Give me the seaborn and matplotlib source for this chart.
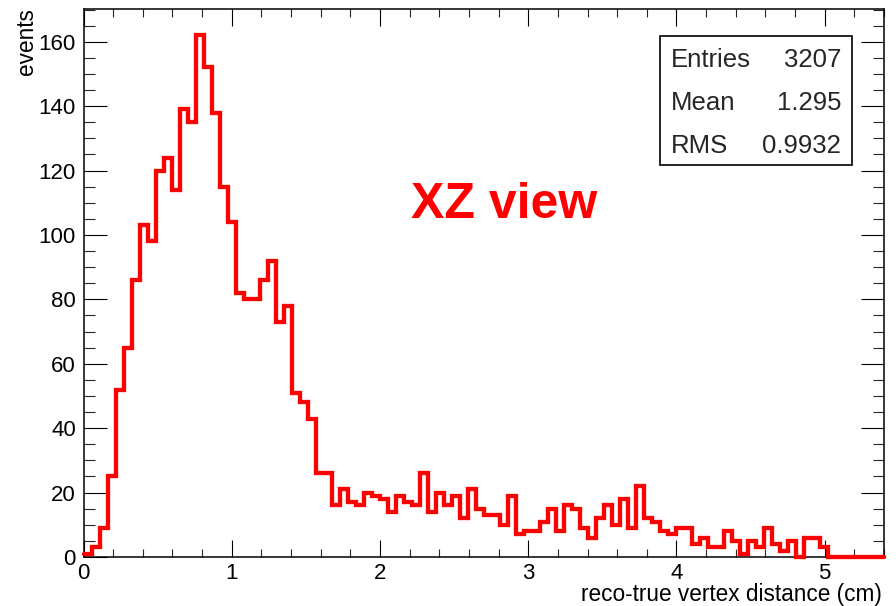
import numpy as np
import pandas as pd
import matplotlib
matplotlib.use("Agg")
import matplotlib.pyplot as plt
from matplotlib.ticker import MultipleLocator
from matplotlib.patches import Rectangle
import seaborn as sns

# Histogram binning: 100 bins between 0 and 5.4 cm
x_low = 0.0
x_high = 5.4
n_bins = 100

# Event counts per bin
counts = [
    1, 3, 9, 25, 52, 65, 86, 103, 98, 120,
    124, 114, 139, 135, 162, 152, 138, 115, 104, 82,
    80, 80, 86, 92, 73, 78, 51, 48, 43, 26,
    26, 16, 21, 17, 16, 20, 19, 18, 14, 19,
    17, 16, 26, 14, 20, 16, 19, 12, 21, 15,
    13, 13, 10, 19, 7, 8, 8, 11, 15, 8,
    16, 15, 9, 6, 12, 16, 10, 18, 9, 22,
    12, 11, 8, 7, 9, 9, 4, 6, 3, 3,
    8, 5, 1, 5, 3, 9, 4, 2, 5, 0,
    6, 6, 3, 0, 0, 0, 0, 0, 0, 0,
]

stat_names = ["Entries", "Mean", "RMS"]
stat_values = ["3207", "1.295", "0.9932"]

x_label = "reco-true vertex distance (cm)"
y_label = "events"
view_label = "XZ view"

sns.set_theme(style="white")
plt.rcParams["font.family"] = ["Liberation Sans", "DejaVu Sans"]

W, H = 896, 606
fig = plt.figure(figsize=(W / 100, H / 100), dpi=100)
fig.patch.set_facecolor("white")


def fx(px):
    return px / W


def fy(py):
    return 1 - py / H


left, right, top, bottom = 83.5, 884.0, 9.2, 557.0
ax = fig.add_axes([fx(left), fy(bottom), (right - left) / W, (bottom - top) / H])
ax.set_facecolor("white")

width = (x_high - x_low) / n_bins
centers = x_low + width * (np.arange(n_bins) + 0.5)
df = pd.DataFrame({"distance": centers, "events": counts})

sns.histplot(data=df, x="distance", weights="events", bins=n_bins,
             binrange=(x_low, x_high), element="step", fill=False,
             color="#ff0000", linewidth=3.1, ax=ax)
for ln in ax.lines:
    ln.set_clip_on(False)
    ln.set_zorder(4)
    ln.set_solid_joinstyle("miter")

# y range extends 5% above the tallest bin
ax.set_xlim(x_low, x_high)
ax.set_ylim(0, max(counts) * 1.05)
ax.set_xlabel("")
ax.set_ylabel("")

for s in ax.spines.values():
    s.set_visible(True)
    s.set_color("black")
    s.set_linewidth(1.1)

ax.xaxis.set_major_locator(MultipleLocator(1))
ax.xaxis.set_minor_locator(MultipleLocator(0.2))
ax.yaxis.set_major_locator(MultipleLocator(20))
ax.yaxis.set_minor_locator(MultipleLocator(5))

ax.tick_params(axis="x", which="major", direction="in", length=12.2, width=0.8,
               bottom=True, top=True, labelsize=16, pad=4, colors="black")
ax.tick_params(axis="x", which="minor", direction="in", length=6, width=0.8,
               bottom=True, top=True)
ax.tick_params(axis="y", which="major", direction="in", length=16.5, width=0.8,
               left=True, right=True, labelsize=16, pad=5.5, colors="black")
ax.tick_params(axis="y", which="minor", direction="in", length=8, width=0.8,
               left=True, right=True)

# Axis titles at the far ends of the axes
fig.text(fx(882), fy(601), x_label, ha="right", va="baseline", fontsize=16.3, color="black")
fig.text(fx(27), fy(8), y_label, ha="center", va="top", rotation=90, fontsize=16.3, color="black")

# Panel label
fig.text(fx(504), fy(218), view_label, ha="center", va="baseline", fontsize=36,
         fontweight="bold", color="#ff0000")

# Statistics box
bx0, by0, bx1, by1 = 660, 36.5, 852, 165.5
fig.patches.append(Rectangle((fx(bx0), fy(by1)), (bx1 - bx0) / W, (by1 - by0) / H,
                             transform=fig.transFigure, fill=True, facecolor="white",
                             edgecolor="black", linewidth=1.2, zorder=5))
row_h = (by1 - by0) / 3
for k, (name, val) in enumerate(zip(stat_names, stat_values)):
    yc = by0 + row_h * (k + 0.5)
    base = yc + 9.2
    fig.text(fx(671), fy(base), name, ha="left", va="baseline", fontsize=18.5, zorder=6)
    fig.text(fx(841), fy(base), val, ha="right", va="baseline", fontsize=18.5, zorder=6)

fig.savefig("out.png", dpi=100, facecolor="white")
